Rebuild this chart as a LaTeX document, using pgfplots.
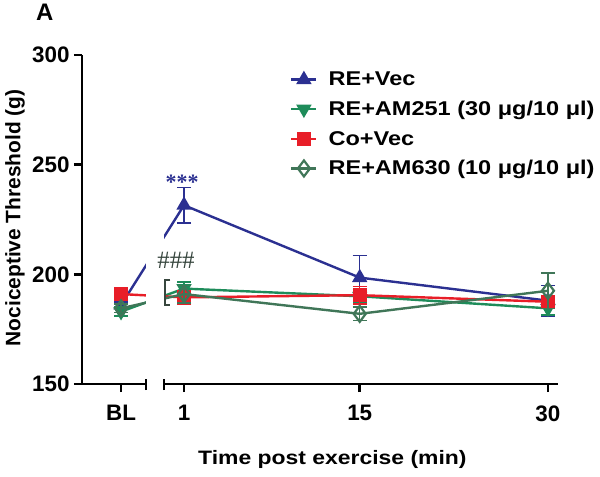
\documentclass[border=0pt]{standalone}
\usepackage{fontspec}
\setmainfont{Liberation Sans}
\newfontfamily\serifA{Liberation Serif}
\usepackage{pgfplots}
\pgfplotsset{compat=1.18}

\definecolor{cBlue}{RGB}{43,48,145}
\definecolor{cGreen}{RGB}{30,140,90}
\definecolor{cRed}{RGB}{232,30,40}
\definecolor{cDark}{RGB}{64,118,88}
\definecolor{cHash}{RGB}{55,70,62}

\newcommand{\wide}[1]{\scalebox{1.18}[1]{#1}}

\begin{document}
\begin{tikzpicture}
\begin{axis}[
    scale only axis, width=476bp, height=329bp,
    xmin=-7.13, xmax=30.8, ymin=150, ymax=300,
    axis y line=left, axis x line=bottom,
    axis line style={-, line width=2.5bp},
    x axis line style={draw=none},
    clip mode=individual,
    xtick={-4.02,1,15,30}, xticklabels={BL,1,15,30},
    ytick={150,200,250,300},
    tick align=outside, major tick length=8bp,
    tick style={line width=2.5bp, black},
    ticklabel style={font=\fontsize{22.5}{26}\selectfont\bfseries},
    /pgf/number format/assume math mode=true,
    xticklabel style={yshift=-10bp},
    yticklabel style={xshift=-1bp},
    ylabel={Nociceptive Threshold (g)},
    ylabel style={font=\fontsize{21}{24}\selectfont\bfseries,
      at={(axis description cs:-0.1408,0.505)}, anchor=center},
    xlabel={\wide{Time post exercise (min)}},
    xlabel style={font=\fontsize{19.5}{22}\selectfont\bfseries,
      at={(axis description cs:0.526,-0.228)}, anchor=center},
    legend style={at={(axis description cs:0.437,0.955)}, anchor=north west,
      draw=none, fill=none, inner sep=0pt, row sep=10bp,
      font=\fontsize{20}{22}\selectfont\bfseries,
      /tikz/every odd column/.append style={column sep=9bp}},
    legend cell align=left,
    legend image code/.code={\draw[mark repeat=2, mark phase=2]
      plot coordinates {(0bp,0bp)(12.5bp,0bp)(25bp,0bp)};},
    every axis plot/.append style={line width=2.4bp},
    error bars/error bar style={line width=1.5bp},
    error bars/error mark options={rotate=90, mark size=7bp, line width=1.5bp},
  ]
  \addplot[color=cBlue, mark=triangle*, mark size=6.5bp, mark options={solid},
    error bars/.cd, y dir=both, y explicit]
    coordinates {(-4.02,186) +- (0,1.5) (1,231.5) +- (0,8) (15,198.5) +- (0,10) (30,188) +- (0,7)};
  \addplot[color=cGreen, mark=triangle*, mark size=6.5bp, mark options={solid, rotate=180},
    error bars/.cd, y dir=both, y explicit]
    coordinates {(-4.02,183) +- (0,2) (1,193.5) +- (0,3) (15,190) +- (0,3) (30,184.5) +- (0,3)};
  \addplot[color=cRed, mark=square*, mark size=6bp, mark options={solid},
    error bars/.cd, y dir=both, y explicit]
    coordinates {(-4.02,191) +- (0,2.5) (1,189.5) +- (0,3) (15,190.5) +- (0,4) (30,187.5) +- (0,2)};
  \addplot[color=cDark, mark=diamond, mark size=8bp, mark options={solid, fill=white, line width=2.2bp},
    error bars/.cd, y dir=both, y explicit]
    coordinates {(-4.02,184.5) +- (0,2) (1,191) +- (0,4) (15,182) +- (0,3) (30,192.5) +- (0,8)};
  \legend{\wide{RE+Vec}, \wide{RE+AM251 (30 μg/10 μl)}, \wide{Co+Vec}, \wide{RE+AM630 (10 μg/10 μl)}}

  % axis break
  \fill[white] (axis cs:-2.03,150.8) rectangle (axis cs:-0.59,299);
  \draw[line width=2.5bp] (axis cs:-7.13,150) -- (axis cs:-2.03,150);
  \draw[line width=2.5bp] (axis cs:-0.59,150) -- (axis cs:30.8,150);
  \draw[line width=2.5bp] ([yshift=-6bp]axis cs:-2.03,150) -- ([yshift=5bp]axis cs:-2.03,150);
  \draw[line width=2.5bp] ([yshift=-6bp]axis cs:-0.59,150) -- ([yshift=5bp]axis cs:-0.59,150);

  % annotations
  \draw[cHash, line width=2bp] (axis cs:-0.08,197.5) -- (axis cs:-0.5,197.5)
    -- (axis cs:-0.5,186) -- (axis cs:-0.08,186);
  \node[text=cHash, font=\serifA\fontsize{25}{25}\selectfont, inner sep=0pt]
    at (axis cs:0.36,206.5) {\#\#\#};
  \node[text=cBlue, font=\serifA\fontsize{22}{22}\selectfont\bfseries, inner sep=0pt]
    at (axis cs:0.85,242) {***};
  \node[font=\fontsize{24}{26}\selectfont\bfseries]
    at (axis description cs:-0.078,1.131) {A};
\end{axis}
\pgfresetboundingbox
\path[use as bounding box] (-82bp,-93bp) rectangle (518bp,384bp);
\end{tikzpicture}
\end{document}
